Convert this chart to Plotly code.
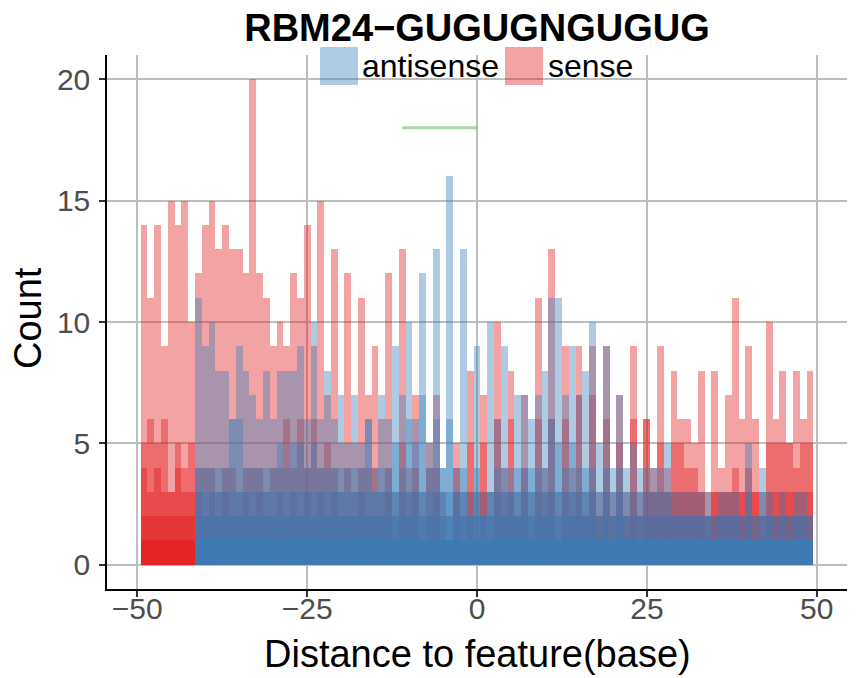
import plotly.graph_objects as go

# bin centres (distance to feature, base)
bins = list(range(-49, 50))

# sense: tallest overlaid bar per bin, then lower overlaid bars
sense_top = [14, 11, 14, 9, 15, 14, 15, 10, 12, 14, 15, 13, 14, 13, 13, 12, 20, 12, 11, 9,
             10, 9, 12, 11, 14, 9, 15, 7, 13, 5, 12, 5, 11, 7, 9, 6, 12, 3, 13, 4,
             7, 3, 5, 7, 3, 2, 5, 3, 8, 3, 7, 3, 10, 4, 8, 3, 7, 3, 11, 4,
             13, 3, 9, 4, 9, 3, 9, 3, 9, 3, 7, 3, 9, 3, 6, 4, 9, 4, 8, 6,
             6, 5, 8, 3, 8, 4, 7, 11, 6, 9, 6, 3, 10, 6, 8, 5, 8, 6, 8]
sense_2 = [5, 6, 5, 6, 3, 5, 4, 5, 4, 4, 4, 3, 4, 4, 3, 4, 4, 4, 3, 4,
           4, 6, 4, 6, 4, 6, 4, 5, 4, 3, 4, 3, 4, 4, 4, 3, 4, 2, 5, 3,
           4, 2, 4, 4, 2, 1, 4, 2, 5, 2, 5, 2, 6, 3, 6, 2, 4, 2, 6, 3,
           6, 2, 6, 3, 7, 2, 7, 2, 6, 2, 5, 2, 6, 2, 6, 3, 5, 3, 5, 5,
           4, 4, 3, 2, 3, 3, 3, 4, 3, 4, 3, 2, 5, 5, 5, 5, 4, 5, 5]
sense_3 = [4, 3, 4, 3, 3, 4, 3, 3, 3, 2, 3, 2, 3, 2, 2, 3, 2, 3, 2, 2,
           3, 2, 3, 2, 3, 2, 3, 2, 3, 2, 2, 2, 3, 2, 2, 2, 3, 1, 3, 2,
           3, 1, 2, 3, 1, 1, 3, 1, 3, 1, 3, 1, 3, 2, 3, 2, 3, 1, 3, 2,
           3, 1, 3, 2, 3, 2, 3, 2, 3, 2, 3, 2, 3, 2, 3, 3, 3, 3, 3, 3,
           3, 3, 3, 2, 3, 3, 3, 3, 3, 3, 3, 2, 3, 3, 3, 3, 3, 3, 3]
sense_4 = [2, 2, 2, 2, 2, 2, 2, 2, 1, 1, 1, 1, 1, 1, 1, 1, 1, 1, 1, 1,
           1, 1, 1, 1, 1, 1, 1, 1, 1, 1, 1, 1, 1, 1, 1, 1, 1, 1, 1, 1,
           1, 1, 1, 1, 1, 1, 1, 1, 1, 1, 1, 1, 1, 1, 1, 1, 1, 1, 1, 1,
           2, 1, 2, 1, 2, 1, 2, 1, 2, 1, 2, 1, 2, 1, 2, 2, 2, 2, 2, 2,
           2, 2, 2, 1, 2, 2, 2, 2, 2, 2, 2, 1, 2, 2, 2, 2, 2, 2, 2]
sense_base = [1, 1, 1, 1, 1, 1, 1, 1, 0, 0, 1, 0, 0, 1, 0, 0, 1, 0, 0, 1,
              0, 1, 0, 0, 1, 0, 0, 1, 0, 0, 1, 0, 0, 0, 1, 0, 0, 0, 1, 0,
              0, 0, 1, 0, 0, 0, 1, 0, 0, 1, 0, 0, 1, 0, 0, 0, 1, 0, 0, 0,
              1, 0, 1, 0, 0, 1, 0, 1, 0, 0, 1, 0, 1, 0, 1, 0, 1, 0, 1, 1,
              0, 1, 0, 1, 1, 0, 1, 0, 1, 0, 1, 0, 1, 1, 0, 1, 0, 1, 1]

# antisense
anti_top = [0, 0, 0, 0, 0, 0, 0, 0, 11, 9, 10, 8, 8, 6, 9, 8, 7, 6, 8, 6,
            8, 8, 8, 9, 6, 10, 6, 8, 6, 7, 5, 7, 5, 6, 4, 7, 6, 9, 7, 10,
            6, 12, 5, 13, 4, 16, 4, 13, 3, 9, 3, 10, 6, 9, 4, 7, 7, 6, 7, 8,
            11, 11, 7, 9, 7, 8, 10, 5, 9, 4, 7, 4, 5, 4, 4, 4, 4, 5, 3, 3,
            3, 3, 3, 3, 2, 3, 3, 3, 2, 5, 2, 4, 3, 2, 3, 2, 3, 3, 2]
anti_2 = [0, 0, 0, 0, 0, 0, 0, 0, 4, 4, 4, 4, 4, 6, 6, 4, 4, 4, 4, 4,
          5, 4, 5, 5, 4, 5, 4, 4, 4, 4, 4, 4, 4, 6, 3, 4, 4, 5, 4, 6,
          5, 7, 4, 6, 4, 6, 3, 4, 2, 4, 2, 3, 4, 4, 3, 4, 4, 4, 4, 4,
          6, 5, 4, 5, 4, 4, 4, 3, 4, 3, 4, 3, 3, 3, 3, 3, 3, 3, 2, 2,
          2, 2, 2, 2, 2, 2, 2, 2, 2, 3, 2, 3, 2, 2, 2, 2, 2, 2, 2]
anti_3 = [0, 0, 0, 0, 0, 0, 0, 0, 3, 3, 3, 3, 3, 3, 3, 3, 3, 3, 3, 3,
          3, 3, 3, 3, 3, 3, 3, 3, 3, 3, 3, 3, 3, 3, 3, 3, 3, 3, 3, 3,
          3, 3, 3, 3, 3, 3, 3, 3, 2, 3, 2, 3, 3, 3, 3, 3, 3, 3, 3, 3,
          3, 3, 3, 3, 3, 3, 3, 2, 3, 2, 3, 2, 2, 2, 2, 2, 2, 2, 2, 2,
          2, 2, 2, 2, 1, 2, 2, 2, 1, 2, 1, 2, 2, 1, 2, 1, 2, 2, 1]
anti_4 = [0, 0, 0, 0, 0, 0, 0, 0, 2, 2, 2, 2, 2, 2, 2, 2, 2, 2, 2, 2,
          2, 2, 2, 2, 2, 2, 2, 2, 2, 2, 2, 2, 2, 2, 2, 2, 2, 2, 2, 2,
          2, 2, 2, 2, 2, 2, 2, 2, 2, 2, 2, 2, 2, 2, 2, 2, 2, 2, 2, 2,
          2, 2, 2, 2, 2, 2, 2, 1, 2, 1, 2, 1, 1, 1, 1, 1, 1, 1, 1, 1,
          1, 1, 1, 1, 1, 1, 1, 1, 1, 1, 1, 1, 1, 1, 1, 1, 1, 1, 1]
anti_base = [0, 0, 0, 0, 0, 0, 0, 0, 1, 1, 1, 1, 1, 1, 1, 1, 1, 1, 1, 1,
             1, 1, 1, 1, 1, 1, 1, 1, 1, 1, 1, 1, 1, 1, 1, 1, 1, 1, 1, 1,
             1, 1, 1, 1, 1, 1, 1, 1, 1, 1, 1, 1, 1, 1, 1, 1, 1, 1, 1, 1,
             1, 1, 1, 1, 1, 1, 1, 1, 1, 1, 1, 1, 1, 1, 1, 1, 1, 1, 1, 1,
             1, 1, 1, 1, 1, 1, 1, 1, 1, 1, 1, 1, 1, 1, 1, 1, 1, 1, 1]

motif_x = [-11, 0]
motif_y = [18, 18]

x_ticks = [-50, -25, 0, 25, 50]
y_ticks = [0, 5, 10, 15, 20]

RED = "rgba(227,26,28,0.4)"
BLUE = "rgba(55,126,184,0.4)"
FONT = "Liberation Sans, Arial, Helvetica, sans-serif"

fig = go.Figure()

def add_layer(vals, color):
    fig.add_trace(go.Bar(x=bins, y=vals, width=1, marker=dict(color=color, line=dict(width=0)),
                         showlegend=False, hoverinfo="skip"))

for arr in (sense_top, sense_2, sense_3, sense_4):
    add_layer(arr, RED)
add_layer(sense_base, "rgba(227,26,28,0.6)")
for arr in (anti_top, anti_2, anti_3, anti_4):
    add_layer(arr, BLUE)
add_layer(anti_base, "rgba(55,126,184,0.7)")

fig.add_trace(go.Scatter(x=motif_x, y=motif_y, mode="lines",
                         line=dict(color="rgba(77,175,74,0.5)", width=3),
                         showlegend=False, hoverinfo="skip"))

L, R, T, B = 107, 17, 55, 89
W, H = 864, 678
pw, ph = W - L - R, H - T - B

def px(xp):
    return (xp - L) / pw

def py(yp):
    return (H - B - yp) / ph

shapes = [
    dict(type="rect", xref="paper", yref="paper", x0=px(320), x1=px(358), y0=py(85), y1=py(47),
         fillcolor=BLUE, line=dict(width=0), layer="above"),
    dict(type="rect", xref="paper", yref="paper", x0=px(505), x1=px(543), y0=py(85), y1=py(47),
         fillcolor=RED, line=dict(width=0), layer="above"),
]
annotations = [
    dict(text="antisense", xref="paper", yref="paper", x=px(360), y=py(66), xanchor="left",
         yanchor="middle", showarrow=False, font=dict(size=32, color="black", family=FONT)),
    dict(text="sense", xref="paper", yref="paper", x=px(546), y=py(66), xanchor="left",
         yanchor="middle", showarrow=False, font=dict(size=32, color="black", family=FONT)),
    dict(text="Distance to feature(base)", xref="paper", yref="paper", x=0.5, y=py(654),
         xanchor="center", yanchor="middle", showarrow=False,
         font=dict(size=38, color="black", family=FONT)),
    dict(text="Count", xref="paper", yref="paper", x=px(28), y=py(318), textangle=-90,
         xanchor="center", yanchor="middle", showarrow=False,
         font=dict(size=38, color="black", family=FONT)),
]

fig.update_layout(
    width=W, height=H, barmode="overlay", bargap=0,
    paper_bgcolor="white", plot_bgcolor="white",
    margin=dict(l=L, r=R, t=T, b=B, autoexpand=False),
    title=dict(text="<b>RBM24\u2212GUGUGNGUGUG</b>", xref="paper", x=0.5, xanchor="center",
               y=1 - 28 / H, yanchor="middle", font=dict(size=38, color="black", family=FONT)),
    shapes=shapes, annotations=annotations,
    xaxis=dict(range=[-54.45, 54.45], tickvals=x_ticks, showgrid=True, gridcolor="#bebebe",
               gridwidth=1.6, zeroline=False, showline=True, linecolor="black", linewidth=1.5,
               ticks="outside", ticklen=6, tickcolor="#333333", tickwidth=1.5, automargin=False,
               ticklabelstandoff=-14,
               tickfont=dict(size=30, color="#4d4d4d", family=FONT)),
    yaxis=dict(range=[-1, 21], tickvals=y_ticks, showgrid=True, gridcolor="#bebebe",
               gridwidth=1.6, zeroline=False, showline=True, linecolor="black", linewidth=1.5,
               ticks="outside", ticklen=6, tickcolor="#333333", tickwidth=1.5, automargin=False,
               ticklabelstandoff=3,
               tickfont=dict(size=30, color="#4d4d4d", family=FONT)),
)

fig.write_html("out.html", config={"displayModeBar": False},
               post_script="document.body.style.margin='0';")
